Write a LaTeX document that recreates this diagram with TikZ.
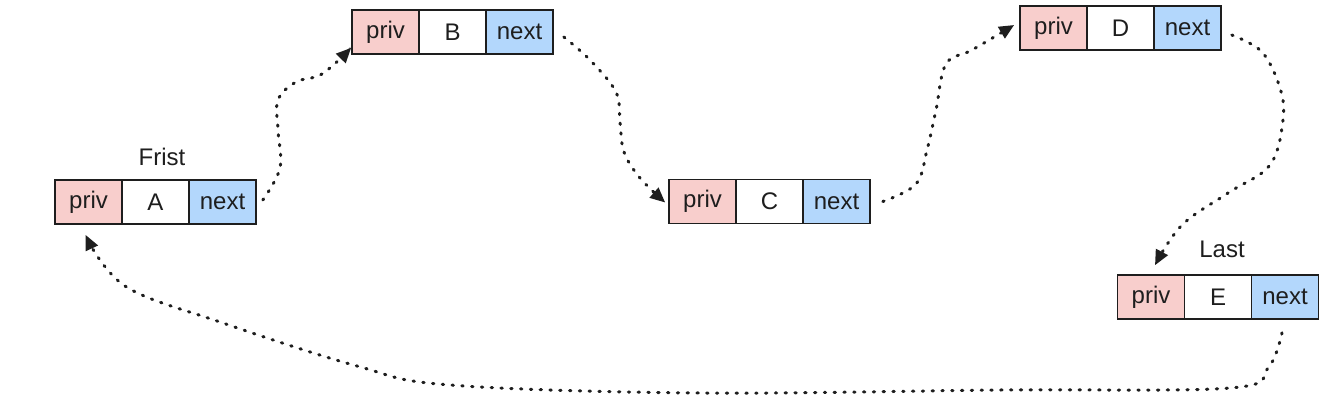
\documentclass[tikz,border=0pt]{standalone}
\usepackage{fontspec}
\setmainfont{Liberation Sans}
\usetikzlibrary{arrows.meta,calc}
\definecolor{privfill}{HTML}{F8CECC}
\definecolor{nextfill}{HTML}{B3D7FC}
\definecolor{ink}{HTML}{1E1E1E}
\tikzset{
  cell/.style={draw=ink, line width=1.6pt, minimum width=67pt, minimum height=44pt,
    inner sep=0pt, font=\fontsize{24}{28}\selectfont, text=ink},
  privcell/.style={cell, fill=privfill},
  valcell/.style={cell, fill=white},
  nextcell/.style={cell, fill=nextfill},
  lbl/.style={font=\fontsize{24}{28}\selectfont, text=ink, inner sep=0pt},
  link/.style={draw=ink, line width=3pt, line cap=round, dash pattern=on 1.4pt off 8.4pt,
    -{Triangle[length=15pt,width=13pt]}}
}
\begin{document}
\begin{tikzpicture}[x=1pt,y=-1pt]
\useasboundingbox (0,0) rectangle (1334,408);
% A
\node[privcell] (Ap) at (88.5,202) {priv};
\node[valcell]  (Av) at (155.5,202) {A};
\node[nextcell] (An) at (222.5,202) {next};
% B
\node[privcell] (Bp) at (385.5,32) {priv};
\node[valcell]  (Bv) at (452.5,32) {B};
\node[nextcell] (Bn) at (519.5,32) {next};
% C
\node[privcell] (Cp) at (702.5,201.5) {priv};
\node[valcell]  (Cv) at (769.5,201.5) {C};
\node[nextcell] (Cn) at (836.5,201.5) {next};
% D
\node[privcell] (Dp) at (1053.5,28) {priv};
\node[valcell]  (Dv) at (1120.5,28) {D};
\node[nextcell] (Dn) at (1187.5,28) {next};
% E
\node[privcell] (Ep) at (1151,297) {priv};
\node[valcell]  (Ev) at (1218,297) {E};
\node[nextcell] (En) at (1285,297) {next};
% labels
\node[lbl] (first) at (162,157) {Frist};
\node[lbl] (last) at (1222,249) {Last};
% A -> B
\draw[link] plot[smooth, tension=0.6] coordinates {($(An.east)+(6,-2)$) (280,168) (278,130) (278,100) (296,82) (322,74) ($(Bp.south west)+(0,-7)$)};
% B -> C
\draw[link] plot[smooth, tension=0.6] coordinates {($(Bn.east)+(10,5)$) (590,60) (616,92) (620,122) (624,152) (640,178) ($(Cp.west)+(-3,1)$)};
% C -> D
\draw[link] plot[smooth, tension=0.6] coordinates {($(Cn.east)+(12,0)$) (916,184) (927,150) (936,110) (946,64) (972,50) ($(Dp.west)+(-5,-3)$)};
% D -> E
\draw[link] plot[smooth, tension=0.6] coordinates {($(Dn.east)+(10,7)$) (1262,52) (1280,88) (1283,120) (1270,165) (1228,193) (1182,225) ($(Ep.north)+(4,-9)$)};
% E -> A
\draw[link] plot[smooth, tension=0.6] coordinates {($(En.south)+(-3,13)$) (1268,368) (1230,388) (1000,390) (700,393) (450,385) (357,366) (220,322) (125,286) ($(Ap.south)+(-3,10)$)};
\end{tikzpicture}
\end{document}
